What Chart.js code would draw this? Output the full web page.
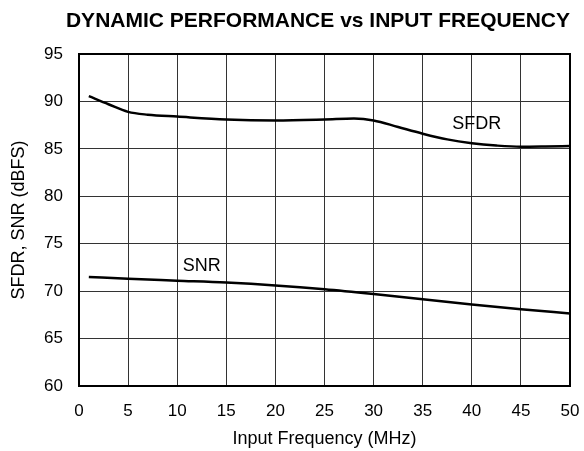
<!DOCTYPE html>
<html>
<head>
<meta charset="utf-8">
<script src="https://cdn.jsdelivr.net/npm/chart.js@4"></script>
<style>
  html, body { margin: 0; padding: 0; background: #fff; }
  #wrap { width: 584px; height: 451px; }
</style>
</head>
<body>
<div id="wrap"><canvas id="grafico" width="584" height="451"></canvas></div>
<script>
// data
const sfdrFreq = [1, 3, 5, 7, 10, 15, 20, 25, 28, 30, 32.5, 35, 37.5, 40, 42.5, 45, 47.5, 50];
const sfdrValues = [90.55, 89.7, 88.9, 88.6, 88.4, 88.1, 88.0, 88.1, 88.2, 88.0, 87.3, 86.6, 86.0, 85.6, 85.35, 85.22, 85.25, 85.3];
const snrFreq = [1, 5, 10, 15, 20, 25, 30, 35, 40, 45, 50];
const snrValues = [71.5, 71.3, 71.1, 70.9, 70.6, 70.2, 69.7, 69.15, 68.6, 68.1, 67.65];
const xTicks = [0, 5, 10, 15, 20, 25, 30, 35, 40, 45, 50];
const yTicks = [60, 65, 70, 75, 80, 85, 90, 95];

const FONTE = "'Liberation Sans', Arial, sans-serif";

// curve labels placed in data coordinates
const rotulos = [
  { texto: 'SFDR', x: 40.5, y: 87.6 },
  { texto: 'SNR', x: 12.5, y: 72.6 }
];

function pontos(xs, ys) {
  return xs.map((x, i) => ({ x, y: ys[i] }));
}

const moldura = {
  id: 'moldura',
  afterDraw(chart) {
    const { ctx, chartArea: a, scales } = chart;
    ctx.save();
    ctx.strokeStyle = '#000';
    ctx.lineWidth = 2;
    ctx.strokeRect(a.left, a.top, a.right - a.left, a.bottom - a.top);

    ctx.fillStyle = '#000';
    ctx.font = '18px ' + FONTE;
    ctx.textAlign = 'center';
    ctx.textBaseline = 'middle';
    rotulos.forEach(r => {
      ctx.fillText(r.texto, scales.x.getPixelForValue(r.x), scales.y.getPixelForValue(r.y));
    });
    ctx.restore();
  }
};

new Chart(document.getElementById('grafico'), {
  type: 'line',
  data: {
    datasets: [
      {
        label: 'SFDR',
        data: pontos(sfdrFreq, sfdrValues),
        borderColor: '#000',
        borderWidth: 2.5,
        pointRadius: 0,
        cubicInterpolationMode: 'monotone',
        fill: false
      },
      {
        label: 'SNR',
        data: pontos(snrFreq, snrValues),
        borderColor: '#000',
        borderWidth: 2.5,
        pointRadius: 0,
        cubicInterpolationMode: 'monotone',
        fill: false
      }
    ]
  },
  options: {
    responsive: false,
    animation: false,
    devicePixelRatio: 1,
    layout: { padding: { left: 0, right: 14, top: 0, bottom: 0 } },
    plugins: {
      legend: { display: false },
      tooltip: { enabled: false },
      title: {
        display: true,
        text: 'DYNAMIC PERFORMANCE vs INPUT FREQUENCY',
        align: 'end',
        color: '#000',
        font: { family: FONTE, size: 21, weight: 'bold' },
        padding: { top: 9, bottom: 19.8 }
      }
    },
    scales: {
      x: {
        type: 'linear',
        min: 0,
        max: 50,
        afterBuildTicks: s => { s.ticks = xTicks.map(v => ({ value: v })); },
        afterFit: s => { s.height = 65; s.paddingLeft = 0; s.paddingRight = 0; },
        grid: { color: '#333', lineWidth: 1, drawTicks: false },
        border: { display: false },
        ticks: {
          color: '#000',
          padding: 15,
          maxRotation: 0,
          font: { family: FONTE, size: 17 }
        },
        title: {
          display: true,
          text: 'Input Frequency (MHz)',
          color: '#000',
          font: { family: FONTE, size: 18 },
          padding: { top: 0, bottom: 1 }
        }
      },
      y: {
        type: 'linear',
        min: 60,
        max: 95,
        afterBuildTicks: s => { s.ticks = yTicks.map(v => ({ value: v })); },
        afterFit: s => { s.width = 79; s.paddingTop = 0; s.paddingBottom = 0; },
        grid: { color: '#333', lineWidth: 1, drawTicks: false },
        border: { display: false },
        ticks: {
          color: '#000',
          padding: 16,
          font: { family: FONTE, size: 17 }
        },
        title: {
          display: true,
          text: 'SFDR, SNR (dBFS)',
          color: '#000',
          font: { family: FONTE, size: 18 },
          padding: { top: 8, bottom: 0 }
        }
      }
    }
  },
  plugins: [moldura]
});
</script>
</body>
</html>
